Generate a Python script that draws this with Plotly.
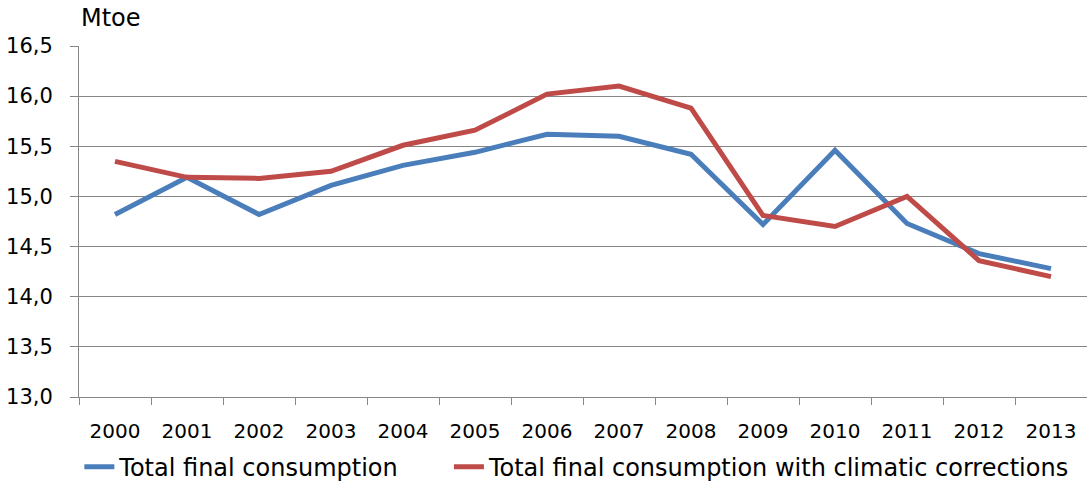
import plotly.graph_objects as go

years = ["2000", "2001", "2002", "2003", "2004", "2005", "2006",
         "2007", "2008", "2009", "2010", "2011", "2012", "2013"]
total_final = [14.82, 15.19, 14.82, 15.11, 15.31, 15.44, 15.62,
               15.60, 15.42, 14.72, 15.46, 14.73, 14.43, 14.28]
total_climatic = [15.35, 15.19, 15.18, 15.25, 15.51, 15.66, 16.02,
                  16.10, 15.88, 14.81, 14.70, 15.00, 14.36, 14.20]
y_ticks = [13.0, 13.5, 14.0, 14.5, 15.0, 15.5, 16.0, 16.5]

FONT = "DejaVu Sans"
GRID = "#868686"

fig = go.Figure()
fig.add_trace(go.Scatter(
    x=years, y=total_final, mode="lines",
    name="Total final consumption",
    line=dict(color="#4A7EBB", width=5),
    legend="legend",
))
fig.add_trace(go.Scatter(
    x=years, y=total_climatic, mode="lines",
    name="Total final consumption with climatic corrections",
    line=dict(color="#BE4B48", width=5),
    legend="legend2",
))

legend_font = dict(family=FONT, size=24, color="#000000")
fig.update_layout(
    width=1087, height=486,
    margin=dict(l=79, r=0, t=46, b=89, autoexpand=False),
    plot_bgcolor="white", paper_bgcolor="white",
    separators=", ",
    font=dict(family=FONT, size=20, color="#000000"),
    showlegend=True,
    legend=dict(
        orientation="h", xref="container", yref="container",
        x=0.073, xanchor="left", y=0.039, yanchor="middle",
        font=legend_font,
    ),
    legend2=dict(
        orientation="h", xref="container", yref="container",
        x=0.413, xanchor="left", y=0.039, yanchor="middle",
        font=legend_font,
    ),
    annotations=[dict(
        text="Mtoe", xref="paper", yref="paper", x=0, y=1.08,
        xanchor="left", yanchor="middle", showarrow=False,
        font=dict(family=FONT, size=24, color="#000000"),
    )],
)

fig.update_xaxes(
    type="category", range=[-0.5, 13.5],
    showline=True, linecolor=GRID, linewidth=1,
    ticks="outside", tickson="boundaries", ticklen=7, tickcolor=GRID,
    showgrid=False, tickfont=dict(family=FONT, size=20),
    ticklabelstandoff=16,
)
fig.update_yaxes(
    range=[13.0, 16.5], tickvals=y_ticks, tickformat=".1f",
    showline=True, linecolor=GRID, linewidth=1,
    ticks="outside", ticklen=8, tickcolor=GRID,
    showgrid=True, gridcolor=GRID, gridwidth=1, zeroline=False,
    tickfont=dict(family=FONT, size=21),
    ticklabelstandoff=13,
)

fig.write_html("out.html", config={"displayModeBar": False},
               post_script="document.body.style.margin='0';")
